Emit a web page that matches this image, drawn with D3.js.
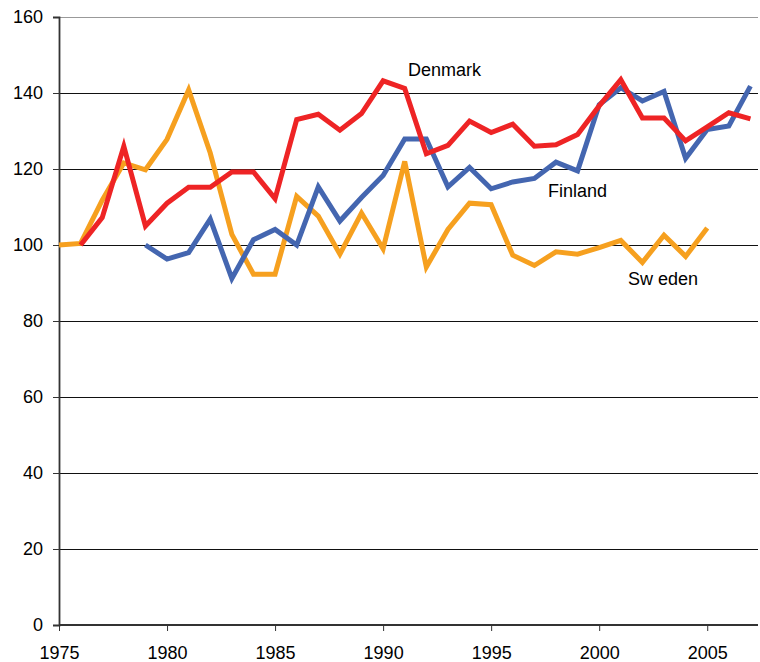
<!DOCTYPE html>
<html>
<head>
<meta charset="utf-8">
<script src="https://cdn.jsdelivr.net/npm/d3@7"></script>
<style>
  body { margin: 0; background: #fff; }
  text { font-family: "Liberation Sans", Arial, sans-serif; font-size: 18px; fill: #000; }
</style>
</head>
<body>
<div class="chart"></div>
<script>
const years = d3.range(1975, 2008);

const denmarkYears = d3.range(1976, 2008);
const denmark = [100, 107.2, 126, 105, 111, 115.2, 115.2, 119.2, 119.2, 112.2, 133, 134.4, 130.2, 134.6,
  143.2, 141.2, 124, 126.2, 132.6, 129.6, 131.8, 126, 126.4, 129.1, 136.6, 143.5, 133.4, 133.4, 127.4, 131.1, 134.8, 133.2];

const finlandYears = d3.range(1979, 2008);
const finland = [100, 96.3, 98, 106.8, 91.2, 101.4, 104.1, 100, 115.3, 106.3, 112.5, 118.3, 127.9, 127.9, 115.3,
  120.4, 114.8, 116.6, 117.5, 121.8, 119.5, 136.9, 141.4, 137.9, 140.4, 122.8, 130.4, 131.3, 141.8];

const swedenYears = d3.range(1975, 2006);
const sweden = [100, 100.4, 111.8, 121.6, 119.8, 127.8, 140.8, 124.2, 102.8, 92.3, 92.3, 112.8, 107.6, 97.6, 108.4,
  99, 122, 94.2, 104.1, 111, 110.6, 97.3, 94.6, 98.2, 97.6, 99.3, 101.2, 95.4, 102.6, 97, 104.5];

const yTicks = [0, 20, 40, 60, 80, 100, 120, 140, 160];
const xTicks = [1975, 1980, 1985, 1990, 1995, 2000, 2005];

const series = [
  {name: "Sweden", years: swedenYears, values: sweden, color: "#F6A01F"},
  {name: "Finland", years: finlandYears, values: finland, color: "#4466B0"},
  {name: "Denmark", years: denmarkYears, values: denmark, color: "#EE2425"}
];

const labels = [
  {text: "Denmark", x: 408, y: 76},
  {text: "Finland", x: 548, y: 197},
  {text: "Sw eden", x: 628, y: 285}
];

const width = 760, height = 662;

const svg = d3.select(".chart")
  .append("svg")
  .attr("width", width)
  .attr("height", height);

const xScale = d3.scaleLinear()
  .domain([1975, 2007.35])
  .range([59, 758]);

const yScale = d3.scaleLinear()
  .domain([0, 160])
  .range([625, 17]);

// gridlines
svg.append("g")
  .attr("shape-rendering", "crispEdges")
  .selectAll("line")
  .data(yTicks.filter(d => d > 0))
  .join("line")
  .attr("x1", xScale(1975))
  .attr("x2", xScale.range()[1])
  .attr("y1", d => Math.round(yScale(d)) + 0.5)
  .attr("y2", d => Math.round(yScale(d)) + 0.5)
  .attr("stroke", d => d === 160 ? "#999" : "#111")
  .attr("stroke-width", 1);

// y axis
const yAxis = d3.axisLeft(yScale)
  .tickValues(yTicks)
  .tickSize(6)
  .tickPadding(10);

svg.append("g")
  .attr("transform", `translate(${xScale(1975)},0)`)
  .call(yAxis)
  .call(g => g.select(".domain").attr("stroke", "#333").attr("stroke-width", 1.8))
  .call(g => g.selectAll(".tick line").attr("stroke", "#333"))
  .call(g => g.selectAll(".tick text").style("font-size", "18px").attr("fill", "#000"));

// x axis
const xAxis = d3.axisBottom(xScale)
  .tickValues(xTicks)
  .tickFormat(d3.format("d"))
  .tickSize(6)
  .tickPadding(15);

svg.append("g")
  .attr("transform", `translate(0,${yScale(0)})`)
  .call(xAxis)
  .call(g => g.select(".domain").attr("stroke", "#333").attr("stroke-width", 1.8).attr("d", `M${xScale(1975)},0H${xScale.range()[1]}`))
  .call(g => g.selectAll(".tick line").attr("stroke", "#333"))
  .call(g => g.selectAll(".tick text").style("font-size", "18px").attr("fill", "#000"));

const line = d3.line()
  .x(d => xScale(d[0]))
  .y(d => yScale(d[1]));

svg.append("g")
  .selectAll("path")
  .data(series)
  .join("path")
  .attr("d", s => line(s.years.map((y, i) => [y, s.values[i]])))
  .attr("fill", "none")
  .attr("stroke", s => s.color)
  .attr("stroke-width", 5)
  .attr("stroke-linejoin", "miter")
  .attr("stroke-linecap", "butt");

svg.append("g")
  .selectAll("text")
  .data(labels)
  .join("text")
  .attr("x", d => d.x)
  .attr("y", d => d.y)
  .text(d => d.text);
</script>
</body>
</html>
